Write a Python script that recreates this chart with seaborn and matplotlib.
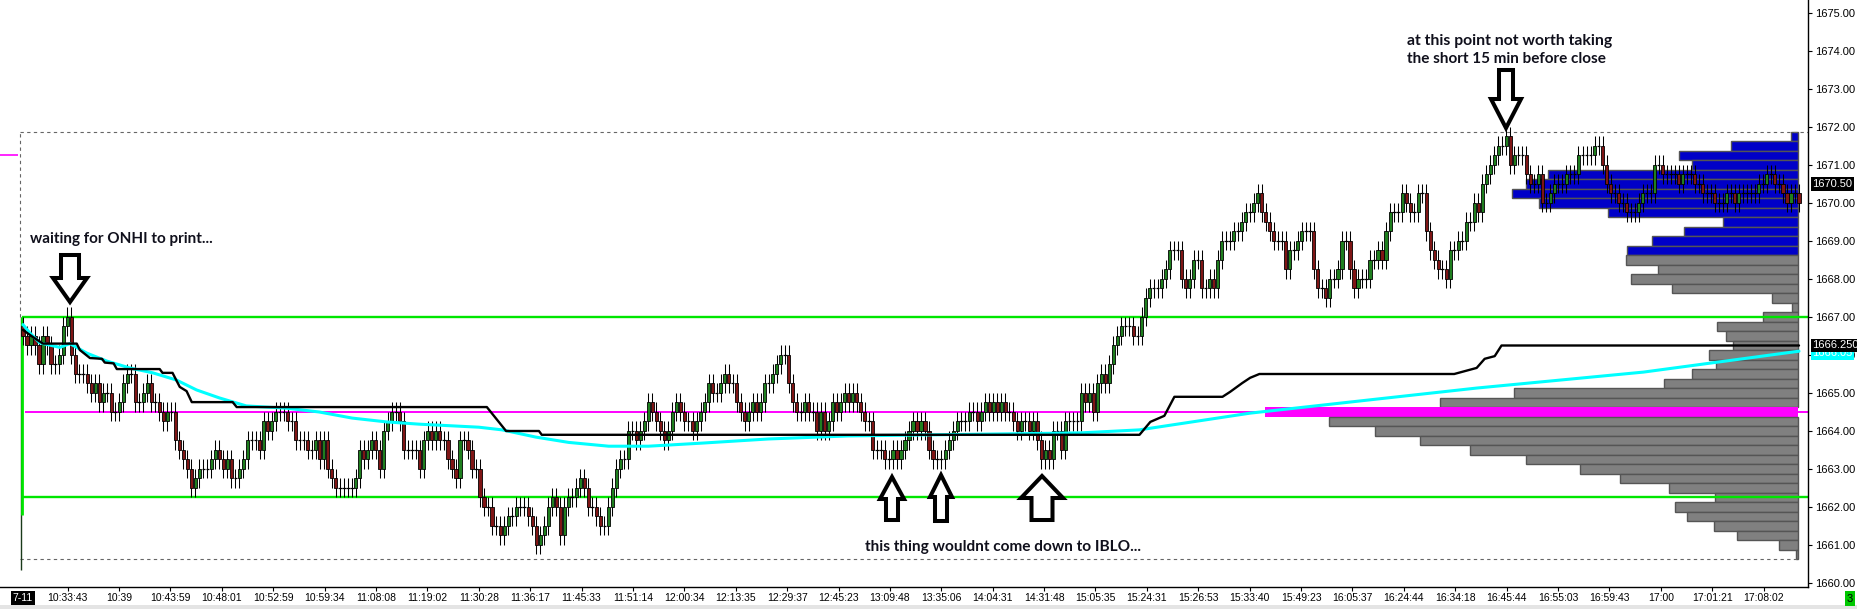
import numpy as np
import matplotlib
matplotlib.use("Agg")
import matplotlib.pyplot as plt
import matplotlib.transforms as mtransforms
from matplotlib.patches import Polygon, Rectangle
import seaborn as sns

# prices are stored as ticks (0.25) above 1660.00
BASE = 1660.0
TICK = 0.25
first_open_tick = 27
close_ticks = [
    26, 25, 26, 25, 23, 26, 25, 23, 23, 24, 27, 28, 24, 22, 22, 22, 21, 20, 21, 19,
    20, 20, 18, 18, 19, 21, 22, 22, 19, 19, 20, 21, 19, 19, 18, 17, 18, 18, 15, 14,
    13, 12, 10, 11, 12, 12, 12, 13, 14, 13, 12, 13, 11, 11, 12, 13, 15, 15, 15, 14,
    17, 16, 17, 18, 18, 18, 17, 17, 15, 15, 15, 14, 14, 15, 13, 15, 12, 11, 10, 10,
    10, 10, 10, 11, 14, 13, 14, 15, 14, 12, 16, 17, 18, 18, 17, 14, 14, 14, 14, 12,
    15, 16, 15, 16, 15, 15, 13, 12, 11, 15, 15, 14, 12,
    12, 9, 8, 8, 6, 6, 5, 6, 7, 7, 8, 8, 8, 7, 6, 4, 5, 6, 8, 9, 8,
    5, 8, 9, 9, 10, 11, 10, 8, 8, 7, 6, 6, 8, 10, 12, 13, 13, 16, 16, 15,
    16, 17, 19, 18, 17, 16, 15, 16, 18, 19, 18, 17, 17, 16, 17, 18, 19, 21, 20, 20,
    21, 22, 21, 21, 19, 18, 17, 18, 19, 18, 19, 21, 21, 22, 23, 24, 24, 21, 19, 18,
    18, 19, 18, 18, 16, 18, 16, 17, 19, 18, 19, 20, 19, 20, 19, 18, 17, 17, 14, 14,
    14, 13, 13, 14, 13, 14, 15, 16, 17, 16, 17, 16,
    14, 13, 13, 13, 14, 15, 16, 17, 17, 17, 18, 18, 17, 18, 19, 18, 19, 18, 19, 18,
    18, 17, 16, 17, 17, 16, 17, 15, 13, 14, 13, 16, 16, 14, 17, 17, 17, 17, 20, 19,
    20, 18, 21, 22, 21, 23, 25, 26, 27, 27, 27, 26, 26, 28, 30, 31, 31, 31, 32, 33,
    35, 35, 35, 32, 31, 32, 34, 34, 31, 31, 32, 31, 34, 36, 36, 36, 37, 37, 38, 39,
    39, 40, 41, 39, 38, 37, 36, 36, 36, 33, 35, 35, 36, 37, 37, 37, 33, 31, 31, 30,
    32, 32, 33, 36, 36, 33, 31, 32, 32, 32, 34, 34, 35,
    34, 37, 39, 39, 39, 41, 40, 39, 39, 41, 41, 37, 35, 34, 33, 33, 32, 35, 35, 36,
    36, 38, 38, 40, 39, 42, 43, 44, 45, 46, 46, 47, 44, 45, 45, 45, 43, 42, 42, 43,
    40, 40, 41, 42, 42, 42, 43, 43, 43, 45, 45, 45, 45, 46, 46, 44, 42, 41, 41, 40,
    40, 39, 39, 39, 40, 41, 41, 41, 44, 44, 43, 43, 43, 43, 42, 43, 43, 43, 42, 42,
    41, 41, 41, 40, 40, 40, 41, 41, 40, 41, 41, 41, 41, 41, 42, 42, 43, 43, 42, 42,
    41, 40, 41, 41, 40,
]

# running VWAP (cyan), knots at bar index
vwap_bar = [0, 1.7, 4.2, 9.2, 11.7, 15.9, 20.9, 26.6, 32.4, 38.3, 43.3, 49.0, 55.7,
            65.7, 73.9, 82.1, 90.6, 98.8, 113.7, 119.5, 127.9, 136.1, 146.1, 156.0,
            169.2, 185.9, 205.8, 263.8, 278.5, 306.1, 337.7, 362.6, 404.2, 443.0]
vwap_price = [1666.80, 1666.58, 1666.32, 1666.20, 1666.30, 1666.05, 1665.84, 1665.66,
              1665.53, 1665.34, 1665.08, 1664.87, 1664.66, 1664.60, 1664.50, 1664.34,
              1664.24, 1664.18, 1664.10, 1664.03, 1663.84, 1663.70, 1663.60, 1663.60,
              1663.68, 1663.79, 1663.87, 1663.95, 1664.03, 1664.47, 1664.84, 1665.13,
              1665.55, 1666.10]

# black stepped average line, knots at bar index
avg_bar = [0, 1.7, 3.5, 5.0, 13.4, 14.2, 16.7, 19.7, 20.4, 22.6, 23.4, 34.1, 34.8,
           37.3, 39.1, 40.8, 42.1, 52.3, 53.3, 115.7, 120.5, 128.7, 129.4, 278.5,
           281.2, 284.7, 287.2, 299.2, 301.1, 304.1, 306.1, 308.4, 357.0, 362.6,
           364.6, 367.1, 368.8, 443.0]
avg_price = [1666.66, 1666.53, 1666.40, 1666.30, 1666.30, 1666.13, 1665.92, 1665.90,
             1665.80, 1665.78, 1665.63, 1665.63, 1665.53, 1665.53, 1665.16, 1665.05,
             1664.76, 1664.76, 1664.63, 1664.63, 1664.00, 1664.00, 1663.90, 1663.90,
             1664.24, 1664.40, 1664.90, 1664.90, 1665.03, 1665.26, 1665.40, 1665.50,
             1665.50, 1665.66, 1665.90, 1665.97, 1666.25, 1666.25]

# volume profile, top to bottom
profile_price = [1671.75, 1671.50, 1671.25, 1671.00, 1670.75, 1670.50, 1670.25, 1670.00,
                 1669.75, 1669.50, 1669.25, 1669.00, 1668.75, 1668.50, 1668.25, 1668.00,
                 1667.75, 1667.50, 1667.25, 1667.00, 1666.75, 1666.50, 1666.25, 1666.00,
                 1665.75, 1665.50, 1665.25, 1665.00, 1664.75, 1664.50, 1664.25, 1664.00,
                 1663.75, 1663.50, 1663.25, 1663.00, 1662.75, 1662.50, 1662.25, 1662.00,
                 1661.75, 1661.50, 1661.25, 1661.00, 1660.75]
profile_vol = [7, 67, 119, 106, 250, 272, 286, 259, 190, 75, 114, 146, 171,
               172, 140, 167, 126, 26, 6, 35, 81, 72, 65, 89, 82, 106, 134, 284, 358,
               533, 469, 423, 378, 328, 272, 218, 178, 129, 83, 123, 111, 84, 61, 19, 2]
poc_price = 1664.50
blue_from = 1668.75

onh_level = 1667.00
ibl_level = 1662.25
mid_level = 1664.50
range_top = 1671.875
range_bottom = 1660.63
left_mark = 1671.26

last_price = 1670.50
avg_last = 1666.25
vwap_last = 1666.05

date_label = "7-11"
time_labels = ["10:33:43", "10:39", "10:43:59", "10:48:01", "10:52:59", "10:59:34",
               "11:08:08", "11:19:02", "11:30:28", "11:36:17", "11:45:33", "11:51:14",
               "12:00:34", "12:13:35", "12:29:37", "12:45:23", "13:09:48", "13:35:06",
               "14:04:31", "14:31:48", "15:05:35", "15:24:31", "15:26:53", "15:33:40",
               "15:49:23", "16:05:37", "16:24:44", "16:34:18", "16:45:44", "16:55:03",
               "16:59:43", "17:00", "17:01:21", "17:08:02"]
price_ticks = [1660, 1661, 1662, 1663, 1664, 1665, 1666, 1667, 1668, 1669, 1670,
               1671, 1672, 1673, 1674, 1675]

# ---------------------------------------------------------------- layout
W, H = 1857, 609
PLOT_R = 1808          # right price axis, px
PLOT_B = 587           # time axis, px from top
X0, STEP = 23, 4.009   # px of first bar, px per bar
PROF_R = 1798          # right edge of profile bars, px

sns.set_style("white")
plt.rcParams["font.family"] = ["Liberation Sans", "DejaVu Sans"]

fig = plt.figure(figsize=(W / 100, H / 100), dpi=100)
ax = fig.add_axes([0, (H - PLOT_B) / H, PLOT_R / W, PLOT_B / H])

ymin = 1675 - (PLOT_B - 13) / 38.0
ymax = 1675 + 13 / 38.0
xmin = -X0 / STEP
xmax = (PLOT_R - X0) / STEP

# volume profile on a twin axis sitting behind the candles
ax2 = ax.twiny()
ax.set_zorder(2)
ax2.set_zorder(1)
ax.patch.set_visible(False)
ax2.axis("off")
prof_colors = []
for p in profile_price:
    if p == poc_price:
        prof_colors.append("#ff00ff")
    elif p >= blue_from:
        prof_colors.append("#0000c8")
    else:
        prof_colors.append("#808080")
edge = ["none" if p == poc_price else "#555555" for p in profile_price]
ax2.barh(profile_price, profile_vol, height=0.25, color=prof_colors,
         edgecolor=edge, linewidth=1.0)
ax2.set_xlim(PROF_R, PROF_R - PLOT_R)
ax2.set_ylim(ymin, ymax)

# reference lines
ax.hlines(range_top, -0.75, xmax, color="#666666", lw=0.8, ls=(0, (3, 3)), zorder=1)
ax.hlines(range_bottom, -0.75, (PROF_R - X0) / STEP, color="#666666", lw=0.8,
          ls=(0, (3, 3)), zorder=1)
ax.vlines(-0.75, onh_level, range_top, color="#666666", lw=0.8, ls=(0, (3, 3)), zorder=1)
ax.vlines(-0.5, 1660.34, onh_level, color="#1a3a1a", lw=1.0, zorder=2)
ax.vlines(-0.25, 1661.8, onh_level, color="#00e600", lw=2.0, zorder=2)
ax.hlines([onh_level, ibl_level], -0.25, xmax, color="#00e600", lw=1.7, zorder=2)
ax.hlines(mid_level, 0.5, xmax, color="#ff00ff", lw=1.4, zorder=2)
ax.hlines(left_mark, xmin, -1.25, color="#ff00ff", lw=1.2, zorder=2)

# candles
closes = BASE + np.array(close_ticks) * TICK
opens = np.r_[BASE + first_open_tick * TICK, closes[:-1]]
bars = np.arange(len(closes))
hi = np.maximum(opens, closes)
lo = np.minimum(opens, closes)
ax.vlines(bars, lo - TICK, hi + TICK, color="black", lw=0.75, zorder=3)
up = closes > opens
dn = closes < opens
fl = closes == opens
ax.bar(bars[up], (hi - lo)[up], bottom=lo[up], width=0.78, color="#1f7f1f",
       edgecolor="black", linewidth=0.6, zorder=4)
ax.bar(bars[dn], (hi - lo)[dn], bottom=lo[dn], width=0.78, color="#7f1515",
       edgecolor="black", linewidth=0.6, zorder=4)
ax.hlines(closes[fl], bars[fl] - 0.45, bars[fl] + 0.45, color="black", lw=0.9, zorder=4)

sns.lineplot(x=vwap_bar, y=vwap_price, ax=ax, color="#00ffff", linewidth=2.2,
             estimator=None, sort=False, zorder=5)
sns.lineplot(x=avg_bar, y=avg_price, ax=ax, color="black", linewidth=1.7,
             estimator=None, sort=False, zorder=6)

ax.set_xlim(xmin, xmax)
ax.set_ylim(ymin, ymax)

# axes
for s in ["top", "left"]:
    ax.spines[s].set_visible(False)
for s in ["right", "bottom"]:
    ax.spines[s].set_color("black")
    ax.spines[s].set_linewidth(1.0)
ax.yaxis.set_ticks_position("right")
ax.set_yticks(price_ticks)
ax.set_yticklabels([f"{p:.2f}" for p in price_ticks])
ax.tick_params(axis="y", right=True, left=False, length=3, width=0.8, pad=2,
               labelsize=8, colors="black")
tick_pos = [11.12 + 12.82 * k for k in range(len(time_labels))]
ax.set_xticks(tick_pos)
ax.set_xticklabels(time_labels)
ax.tick_params(axis="x", bottom=True, length=3, width=0.8, pad=1.5,
               labelsize=7.5, colors="black")
ax.set_xlabel("")
ax.set_ylabel("")
ax.grid(False)

# price boxes on the right axis
tr = mtransforms.blended_transform_factory(ax.transAxes, ax.transData)
ax.text(1.0025, vwap_last, f"{vwap_last:.2f}", transform=tr, ha="left", va="center",
        fontsize=8, color="white", clip_on=False, zorder=10,
        bbox=dict(fc="#00ffff", ec="none", pad=1.2))
ax.text(1.0025, avg_last, f"{avg_last:.3f}", transform=tr, ha="left", va="center",
        fontsize=8, color="white", clip_on=False, zorder=11,
        bbox=dict(fc="black", ec="none", pad=1.2))
ax.text(1.0025, last_price, f"{last_price:.2f}", transform=tr, ha="left", va="center",
        fontsize=8, color="white", clip_on=False, zorder=11,
        bbox=dict(fc="black", ec="none", pad=1.2))

# overlay in pixel units for notes and arrows
ov = fig.add_axes([0, 0, 1, 1], zorder=10)
ov.set_xlim(0, W)
ov.set_ylim(H, 0)
ov.axis("off")

ov.add_patch(Rectangle((0, 605), W, 4, fc="#e4e4e4", ec="none"))
ov.text(X0, 598, date_label, ha="center", va="center", fontsize=7.5, color="white",
        bbox=dict(fc="black", ec="none", pad=1.2))
ov.text(1850, 598.5, "3", ha="center", va="center", fontsize=8, color="black",
        bbox=dict(fc="#00c800", ec="none", pad=1.5))

renderer = fig.canvas.get_renderer()


def note(x, y, s, width_px):
    t = ov.text(x, y, s, ha="left", va="center", fontsize=10, fontweight="bold",
                family=["Lato", "DejaVu Sans"], color="#10101c")
    w = t.get_window_extent(renderer).width
    t.set_fontsize(10 * width_px / w)


def arrow(tip_x, tip_y, tail_y, shaft_hw, head_hw, head_len):
    d = 1 if tail_y < tip_y else -1
    base = tip_y - d * head_len
    pts = [(tip_x - shaft_hw, tail_y), (tip_x + shaft_hw, tail_y),
           (tip_x + shaft_hw, base), (tip_x + head_hw, base), (tip_x, tip_y),
           (tip_x - head_hw, base), (tip_x - shaft_hw, base)]
    ov.add_patch(Polygon(pts, closed=True, fc="white", ec="black", lw=2.9,
                         joinstyle="miter"))


note(30, 238.5, "waiting for ONHI to print...", 183)
note(1407, 41, "at this point not worth taking", 205)
note(1407, 59, "the short 15 min before close", 200)
note(865, 547, "this thing wouldnt come down to IBLO...", 277)

arrow(70, 302, 255, 9, 17, 24)
arrow(1506, 128, 70, 7, 15, 29)
arrow(892, 477, 520, 6, 12, 22)
arrow(941, 475, 521, 6, 11, 22)
arrow(1042, 476, 520, 10.5, 21, 22)

fig.savefig("out.png", dpi=100, facecolor="white")
